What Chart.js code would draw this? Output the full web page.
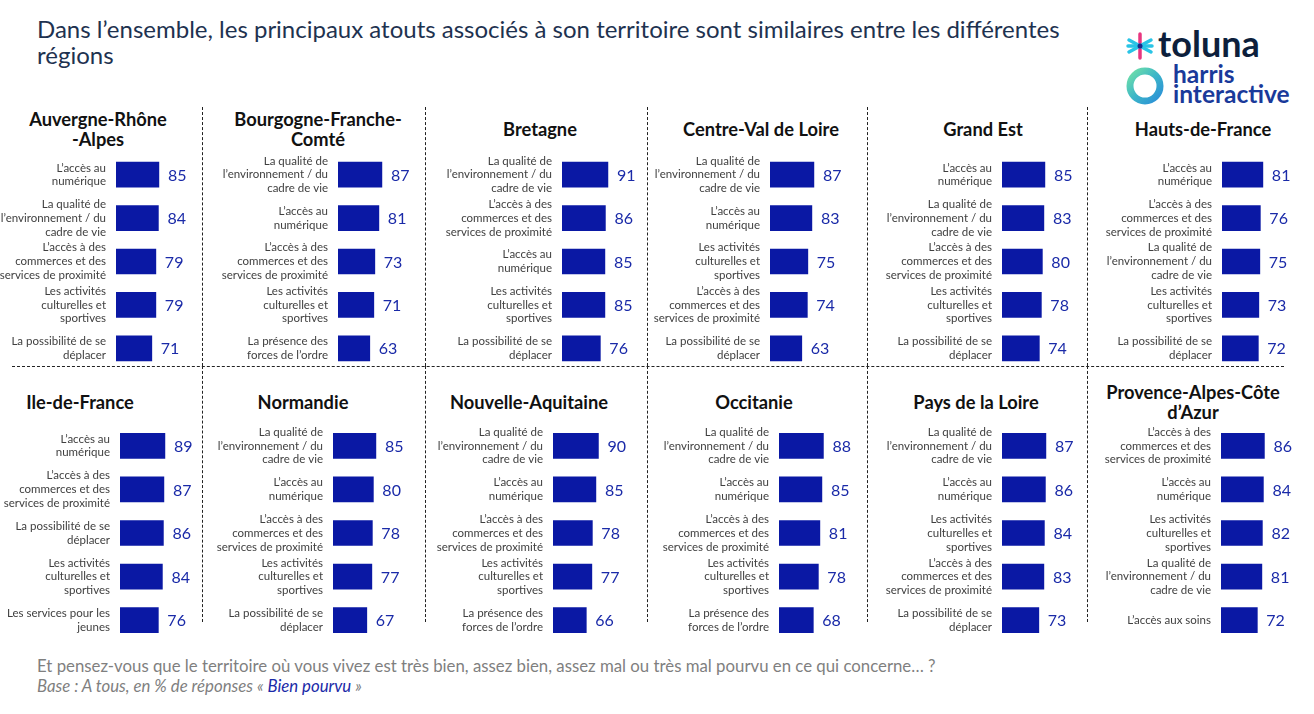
<!DOCTYPE html>
<html lang="fr">
<head>
<meta charset="utf-8">
<script src="https://cdn.jsdelivr.net/npm/chart.js@4.4.1/dist/chart.umd.min.js"></script>
<style>
  html, body { margin: 0; padding: 0; background: #fff; }
  body { width: 1314px; height: 714px; position: relative; overflow: hidden; font-family: Lato, "Noto Sans", sans-serif; }
  #titre { position: absolute; left: 37px; top: 16px; font-size: 24px; line-height: 26px; color: #1e3250; }
  .region { position: absolute; width: 300px; height: 40px; display: flex; align-items: center; justify-content: center;
            text-align: center; font-weight: bold; font-size: 18.3px; line-height: 20px; color: #111; }
  .panneau { position: absolute; }
  .vsep { position: absolute; width: 0; border-left: 1px dashed #222; }
  .hsep { position: absolute; height: 0; border-top: 1px dashed #222; }
  #note { position: absolute; left: 37px; top: 656px; font-size: 16.8px; line-height: 20px; color: #7f7f7f; }
  #note i span { color: #1a2aa8; }
  #logo { position: absolute; left: 1120px; top: 28px; width: 194px; height: 80px; }
</style>
</head>
<body>
<div id="titre">Dans l’ensemble, les principaux atouts associés à son territoire sont similaires entre les différentes<br>régions</div>

<div id="logo">
  <svg width="194" height="80" viewBox="0 0 194 80">
    <g stroke-width="3.5" stroke-linecap="round">
      <line x1="20" y1="6" x2="20" y2="30" stroke="#e8367f"/>
      <line x1="9" y1="12" x2="31" y2="24" stroke="#29c4e6"/>
      <line x1="9" y1="24" x2="31" y2="12" stroke="#29c4e6"/>
      <line x1="8" y1="18" x2="32" y2="18" stroke="#29c4e6"/>
    </g>
    <circle cx="20" cy="18" r="2.5" fill="#1a2a8a"/>
    <text x="38" y="29" font-family="Lato, sans-serif" font-weight="bold" font-size="36" fill="#0d1f3c">toluna</text>
    <defs>
      <linearGradient id="ring" x1="0" y1="0" x2="1" y2="1">
        <stop offset="0" stop-color="#6fe0a8"/>
        <stop offset="0.5" stop-color="#3cb6c8"/>
        <stop offset="1" stop-color="#2a8fd8"/>
      </linearGradient>
    </defs>
    <circle cx="25" cy="58" r="15" fill="none" stroke="url(#ring)" stroke-width="7"/>
    <text x="53" y="55" font-family="Lato, sans-serif" font-weight="bold" font-size="24.5" fill="#1a3a9a">harris</text>
    <text x="53" y="75" font-family="Lato, sans-serif" font-weight="bold" font-size="24.5" fill="#1a3a9a">interactive</text>
  </svg>
</div>

<div id="note">Et pensez-vous que le territoire où vous vivez est très bien, assez bien, assez mal ou très mal pourvu en ce qui concerne… ?<br><i>Base : A tous, en % de réponses « <span>Bien pourvu</span> »</i></div>

<script>
// Libellés des items (découpés comme dans l'original)
const lNumerique = ['L’accès au', 'numérique'];
const lQualite = ['La qualité de', 'l’environnement / du', 'cadre de vie'];
const lCommerces = ['L’accès à des', 'commerces et des', 'services de proximité'];
const lActivites = ['Les activités', 'culturelles et', 'sportives'];
const lDeplacer = ['La possibilité de se', 'déplacer'];
const lOrdre = ['La présence des', 'forces de l’ordre'];
const lJeunes = ['Les services pour les', 'jeunes'];
const lSoins = ['L’accès aux soins'];

// Régions
const regions = [
    'Auvergne-Rhône\n-Alpes', 'Bourgogne-Franche-\nComté', 'Bretagne', 'Centre-Val de Loire', 'Grand Est', 'Hauts-de-France',
    'Ile-de-France', 'Normandie', 'Nouvelle-Aquitaine', 'Occitanie', 'Pays de la Loire', 'Provence-Alpes-Côte\nd’Azur'
];

// Items et valeurs (% Bien pourvu) par région
const itemsARA = [lNumerique, lQualite, lCommerces, lActivites, lDeplacer];
const valsARA = [85, 84, 79, 79, 71];
const itemsBFC = [lQualite, lNumerique, lCommerces, lActivites, lOrdre];
const valsBFC = [87, 81, 73, 71, 63];
const itemsBRE = [lQualite, lCommerces, lNumerique, lActivites, lDeplacer];
const valsBRE = [91, 86, 85, 85, 76];
const itemsCVL = [lQualite, lNumerique, lActivites, lCommerces, lDeplacer];
const valsCVL = [87, 83, 75, 74, 63];
const itemsGES = [lNumerique, lQualite, lCommerces, lActivites, lDeplacer];
const valsGES = [85, 83, 80, 78, 74];
const itemsHDF = [lNumerique, lCommerces, lQualite, lActivites, lDeplacer];
const valsHDF = [81, 76, 75, 73, 72];
const itemsIDF = [lNumerique, lCommerces, lDeplacer, lActivites, lJeunes];
const valsIDF = [89, 87, 86, 84, 76];
const itemsNOR = [lQualite, lNumerique, lCommerces, lActivites, lDeplacer];
const valsNOR = [85, 80, 78, 77, 67];
const itemsNAQ = [lQualite, lNumerique, lCommerces, lActivites, lOrdre];
const valsNAQ = [90, 85, 78, 77, 66];
const itemsOCC = [lQualite, lNumerique, lCommerces, lActivites, lOrdre];
const valsOCC = [88, 85, 81, 78, 68];
const itemsPDL = [lQualite, lNumerique, lActivites, lCommerces, lDeplacer];
const valsPDL = [87, 86, 84, 83, 73];
const itemsPACA = [lCommerces, lNumerique, lActivites, lQualite, lSoins];
const valsPACA = [86, 84, 82, 81, 72];

const allItems = [itemsARA, itemsBFC, itemsBRE, itemsCVL, itemsGES, itemsHDF, itemsIDF, itemsNOR, itemsNAQ, itemsOCC, itemsPDL, itemsPACA];
const allVals = [valsARA, valsBFC, valsBRE, valsCVL, valsGES, valsHDF, valsIDF, valsNOR, valsNAQ, valsOCC, valsPDL, valsPACA];

// Mise en page (positions en px)
const barStart = [116, 338, 562, 770, 1002, 1222, 120, 333, 553, 779, 1002, 1221];
const titleX = [98, 318, 540, 761, 983, 1203, 80, 303, 529, 754, 976, 1193];
const rowTitleTop = [109, 382];
const rowChartTop = [153, 424];
const rowChartH = [217, 218];
const labelW = 130;
const canvasW = 240;

// Séparateurs en pointillés
[202, 425, 647, 867, 1087].forEach(function (x) {
    const a = document.createElement('div');
    a.className = 'vsep';
    a.style.left = x + 'px'; a.style.top = '107px'; a.style.height = '259px';
    document.body.appendChild(a);
    const b = document.createElement('div');
    b.className = 'vsep';
    b.style.left = x + 'px'; b.style.top = '366px'; b.style.height = '256px';
    document.body.appendChild(b);
});
const h = document.createElement('div');
h.className = 'hsep';
h.style.left = '12px'; h.style.top = '366px'; h.style.width = '1272px';
document.body.appendChild(h);

// Étiquettes de valeurs à droite des barres
const valeursPlugin = {
    id: 'valeurs',
    afterDatasetsDraw(chart) {
        const ctx = chart.ctx;
        const meta = chart.getDatasetMeta(0);
        ctx.save();
        ctx.font = '16px Lato, sans-serif';
        ctx.fillStyle = '#1a2aa8';
        ctx.textAlign = 'left';
        ctx.textBaseline = 'middle';
        meta.data.forEach(function (bar, i) {
            ctx.fillText(chart.data.datasets[0].data[i], bar.x + 9, bar.y + 1);
        });
        ctx.restore();
    }
};

for (let i = 0; i < regions.length; i++) {
    const row = i < 6 ? 0 : 1;

    // Titre de la région
    const t = document.createElement('div');
    t.className = 'region';
    t.style.left = (titleX[i] - 150) + 'px';
    t.style.top = rowTitleTop[row] + 'px';
    t.innerHTML = regions[i].split('\n').join('<br>');
    document.body.appendChild(t);

    // Graphique
    const canvas = document.createElement('canvas');
    canvas.className = 'panneau';
    canvas.width = canvasW;
    canvas.height = rowChartH[row];
    canvas.style.left = (barStart[i] - labelW) + 'px';
    canvas.style.top = rowChartTop[row] + 'px';
    document.body.appendChild(canvas);

    new Chart(canvas.getContext('2d'), {
        type: 'bar',
        data: {
            labels: allItems[i],
            datasets: [{
                data: allVals[i],
                backgroundColor: '#0a18a4',
                barThickness: 25
            }]
        },
        options: {
            indexAxis: 'y',
            responsive: false,
            animation: false,
            devicePixelRatio: 1,
            layout: { padding: 0, autoPadding: false },
            plugins: { legend: { display: false }, tooltip: { enabled: false } },
            scales: {
                x: { display: false, min: 0, max: 218 },
                y: {
                    grid: { display: false, drawTicks: false },
                    border: { display: false },
                    ticks: {
                        autoSkip: false,
                        padding: 10,
                        color: '#404040',
                        font: { family: 'Lato, sans-serif', size: 11.5, lineHeight: 1.2 }
                    },
                    afterFit: function (scale) {
                        // les libellés peuvent déborder : pas de marge haute/basse
                        scale.width = labelW;
                        scale.paddingTop = 0;
                        scale.paddingBottom = 0;
                    }
                }
            }
        },
        plugins: [valeursPlugin]
    });
}
</script>
</body>
</html>
